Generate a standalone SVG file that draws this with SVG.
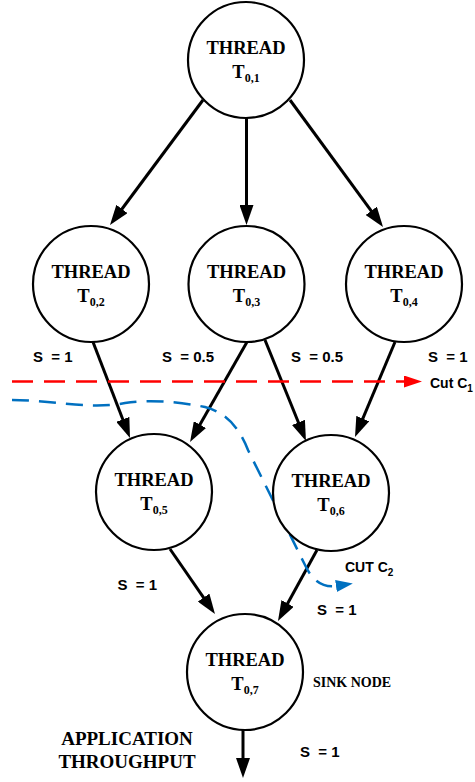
<svg xmlns="http://www.w3.org/2000/svg" width="475" height="782" viewBox="0 0 475 782">
  <style>
    .node circle { fill: #fff; stroke: #000; stroke-width: 2.2; }
    .node text, .serif { font-family: "Liberation Serif", "Times New Roman", serif; font-weight: bold; fill: #000; text-anchor: middle; }
    .t1 { font-size: 18.5px; }
    .sub { font-size: 12px; }
    .edge { stroke: #000; stroke-width: 3; fill: none; marker-end: url(#arrow); }
    .lbl { font-family: "Liberation Sans", Arial, sans-serif; font-weight: bold; font-size: 15px; fill: #000; white-space: pre; }
    .cut { font-family: "Liberation Sans", Arial, sans-serif; font-weight: bold; font-size: 14px; fill: #000; }
  </style>
  <defs>
    <marker id="arrow" markerUnits="userSpaceOnUse" markerWidth="20" markerHeight="14" refX="10" refY="7" orient="auto">
      <path d="M0,0 L20,7 L0,14 z" fill="#000"/>
    </marker>
    <marker id="redhead" markerUnits="userSpaceOnUse" markerWidth="18" markerHeight="12" refX="0" refY="6" orient="auto">
      <path d="M0,0 L18,6 L0,12 z" fill="#ff0000"/>
    </marker>
    <marker id="bluehead" markerUnits="userSpaceOnUse" markerWidth="17" markerHeight="12" refX="0" refY="6" orient="auto">
      <path d="M0,0 L17,6 L0,12 z" fill="#0070c0"/>
    </marker>
  </defs>

  <!-- connectors -->
  <g id="connectors">
    <line class="edge" x1="203" y1="100" x2="116" y2="217"/>
    <line class="edge" x1="246.5" y1="118" x2="246.5" y2="215"/>
    <line class="edge" x1="290" y1="100" x2="377.1" y2="218.9"/>
    <line class="edge" x1="93" y1="342" x2="126.4" y2="428.7"/>
    <line class="edge" x1="247" y1="342" x2="195" y2="433.3"/>
    <line class="edge" x1="265" y1="340" x2="302.2" y2="431.7"/>
    <line class="edge" x1="395" y1="342" x2="358.9" y2="427.8"/>
    <line class="edge" x1="170" y1="549" x2="209.3" y2="605.8"/>
    <line class="edge" x1="317" y1="550" x2="282.8" y2="612.2"/>
    <line class="edge" x1="243" y1="730" x2="243" y2="768"/>
  </g>

  <!-- cuts -->
  <g id="cut-c1">
    <line x1="12" y1="381.5" x2="404" y2="381.5" stroke="#ff0000" stroke-width="2.5" stroke-dasharray="21 11" marker-end="url(#redhead)"/>
    <text class="cut" x="430" y="388">Cut C<tspan font-size="10px" dy="4">1</tspan></text>
  </g>
  <g id="cut-c2">
    <path d="M12,400 C50,400 90,410 125,403 C150,399 180,402 205,407 C228,413 240,430 248,450 L305,565 C312,580 322,588 336,586" fill="none" stroke="#0070c0" stroke-width="2.5" stroke-dasharray="17 10" marker-end="url(#bluehead)"/>
    <text class="cut" x="345" y="572">CUT C<tspan font-size="10px" dy="4">2</tspan></text>
  </g>

  <!-- nodes -->
  <g id="t01" class="node">
    <circle cx="246" cy="60" r="58"/>
    <text class="t1" x="246" y="54">THREAD</text>
    <text class="t1" x="246" y="78">T<tspan class="sub" dy="4">0,1</tspan></text>
  </g>
  <g id="t02" class="node">
    <circle cx="91" cy="284" r="58"/>
    <text class="t1" x="91" y="278">THREAD</text>
    <text class="t1" x="91" y="302">T<tspan class="sub" dy="4">0,2</tspan></text>
  </g>
  <g id="t03" class="node">
    <circle cx="246.5" cy="284" r="58"/>
    <text class="t1" x="246.5" y="278">THREAD</text>
    <text class="t1" x="246.5" y="302">T<tspan class="sub" dy="4">0,3</tspan></text>
  </g>
  <g id="t04" class="node">
    <circle cx="404" cy="284" r="58"/>
    <text class="t1" x="404" y="278">THREAD</text>
    <text class="t1" x="404" y="302">T<tspan class="sub" dy="4">0,4</tspan></text>
  </g>
  <g id="t05" class="node">
    <circle cx="154" cy="492" r="58"/>
    <text class="t1" x="154" y="486">THREAD</text>
    <text class="t1" x="154" y="510">T<tspan class="sub" dy="4">0,5</tspan></text>
  </g>
  <g id="t06" class="node">
    <circle cx="331" cy="493" r="58"/>
    <text class="t1" x="331" y="487">THREAD</text>
    <text class="t1" x="331" y="511">T<tspan class="sub" dy="4">0,6</tspan></text>
  </g>
  <g id="t07" class="node">
    <circle cx="245" cy="672" r="58"/>
    <text class="t1" x="245" y="666">THREAD</text>
    <text class="t1" x="245" y="690">T<tspan class="sub" dy="4">0,7</tspan></text>
  </g>

  <!-- edge weights and captions -->
  <g id="labels">
    <text class="lbl" x="33" y="362">S  = 1</text>
    <text class="lbl" x="162" y="362">S  = 0.5</text>
    <text class="lbl" x="291" y="362">S  = 0.5</text>
    <text class="lbl" x="428" y="362">S  = 1</text>
    <text class="lbl" x="157" y="590" text-anchor="end">S  = 1</text>
    <text class="lbl" x="317" y="615">S  = 1</text>
    <text class="lbl" x="300" y="757">S  = 1</text>
    <text class="serif" x="313" y="687" font-size="14px" style="text-anchor:start">SINK NODE</text>
    <text class="serif" x="127" y="745" font-size="19px">APPLICATION</text>
    <text class="serif" x="127" y="768" font-size="19px">THROUGHPUT</text>
  </g>
</svg>
